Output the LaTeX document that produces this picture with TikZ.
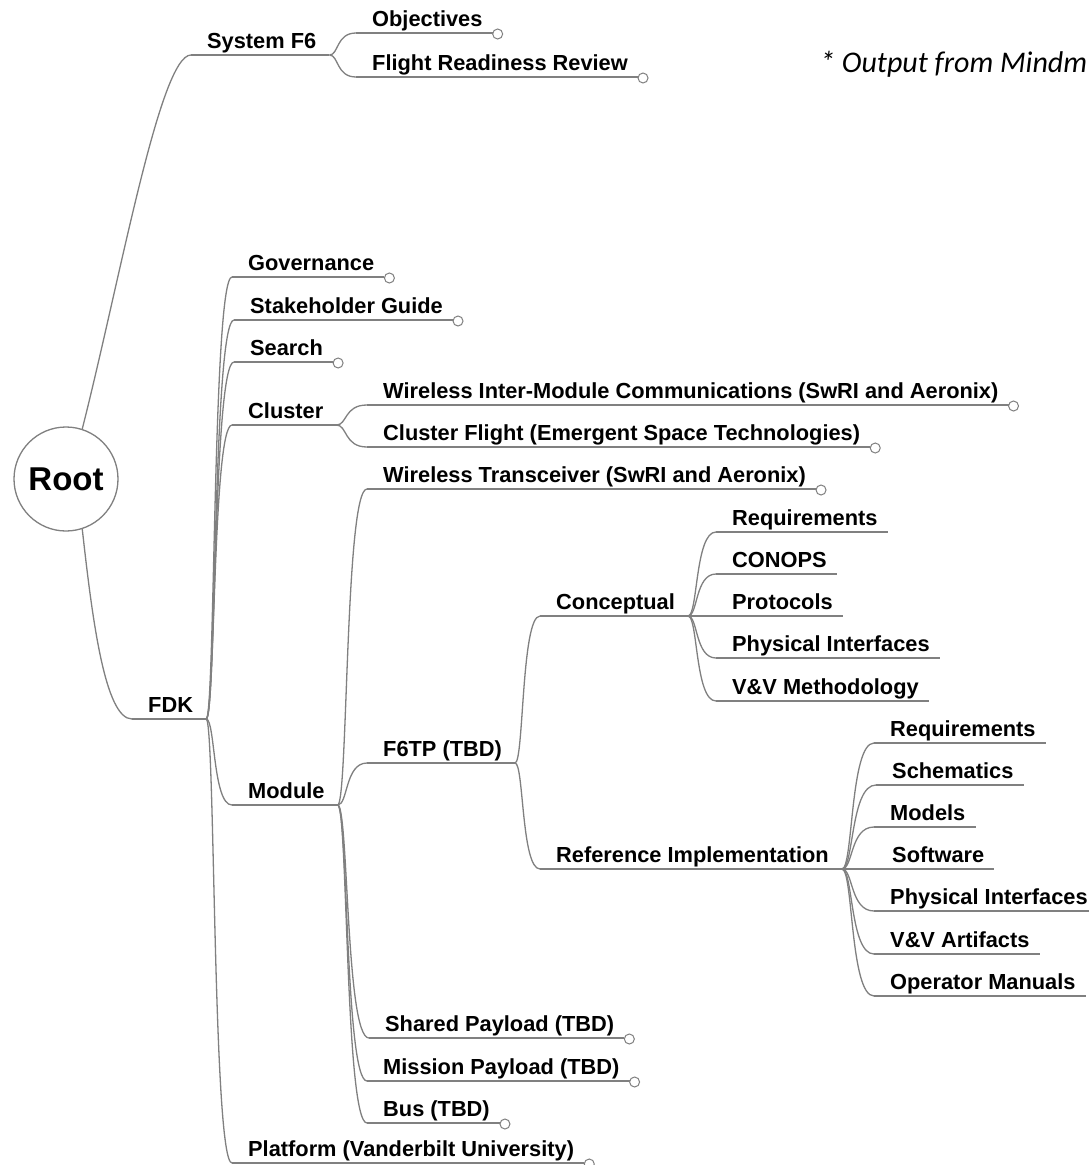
\documentclass[tikz,border=0pt]{standalone}
\usepackage{fontspec}
\setmainfont{Liberation Sans}
\newfontfamily\notefont{Carlito}
\usetikzlibrary{calc}
\definecolor{linegray}{RGB}{128,128,128}
\tikzset{
  conn/.style={draw=linegray, line width=1.3pt},
  lbl/.style={anchor=base west, inner sep=0pt, text=black,
    font=\fontsize{21.8}{24}\selectfont\bfseries},
  rootnode/.style={circle, draw=linegray, line width=1.3pt, minimum size=104pt,
    inner sep=0pt, font=\fontsize{33}{36}\selectfont\bfseries},
  notestyle/.style={anchor=base west, inner sep=0pt, text=black,
    font=\fontsize{30}{34}\notefont\itshape}
}
% connector from parent branch point to child underline start
\newcommand{\mmlink}[2]{\draw[conn] let \p1=($(#1.base east)+(13,7)$), \p2=($(#2.base west)+(-16,7)$) in
  (\p1) .. controls ({\x1+0.35*(\x2-\x1)},\y1) and ({\x1+0.25*(\x2-\x1)},\y2) .. (\p2);}
% underline of a node
\newcommand{\mmul}[2]{\draw[conn] ($(#1.base west)+(-16,7)$) -- ($(#1.base east)+(#2,7)$);}
% small end knob of a leaf
\newcommand{\mmknob}[1]{\draw[conn, line width=1pt, fill=white] ($(#1.base east)+(15,8)$) circle[radius=5pt];}
\begin{document}
\begin{tikzpicture}[x=1pt, y=-1pt]
\fill[white] (0,0) rectangle (1088,1165);
\useasboundingbox (0,0) rectangle (1088,1165);

% nodes
\node[rootnode] (root) at (66,479) {Root};
\node[lbl] (sysf6) at (207,48) {System F6};
\node[lbl] (obj) at (372,26) {Objectives};
\node[lbl] (frr) at (372,70) {Flight Readiness Review};
\node[notestyle] (note) at (820,72) {* Output from Mindm};

\node[lbl] (fdk) at (148,712) {FDK};
\node[lbl] (gov) at (248,270) {Governance};
\node[lbl] (stake) at (250,313) {Stakeholder Guide};
\node[lbl] (search) at (250,355) {Search};
\node[lbl] (cluster) at (248,418) {Cluster};
\node[lbl] (wimc) at (383,398) {Wireless Inter-Module Communications (SwRI and Aeronix)};
\node[lbl] (cflight) at (383,440) {Cluster Flight (Emergent Space Technologies)};
\node[lbl] (module) at (248,798) {Module};
\node[lbl] (wtrans) at (383,482) {Wireless Transceiver (SwRI and Aeronix)};
\node[lbl] (f6tp) at (383,756) {F6TP (TBD)};
\node[lbl] (concept) at (556,609) {Conceptual};
\node[lbl] (creq) at (732,525) {Requirements};
\node[lbl] (conops) at (732,567) {CONOPS};
\node[lbl] (proto) at (732,609) {Protocols};
\node[lbl] (cphys) at (732,651) {Physical Interfaces};
\node[lbl] (vvm) at (732,694) {V\&V Methodology};
\node[lbl] (refimpl) at (556,862) {Reference Implementation};
\node[lbl] (rreq) at (890,736) {Requirements};
\node[lbl] (schem) at (892,778) {Schematics};
\node[lbl] (models) at (890,820) {Models};
\node[lbl] (software) at (892,862) {Software};
\node[lbl] (rphys) at (890,904) {Physical Interfaces};
\node[lbl] (vvart) at (890,947) {V\&V Artifacts};
\node[lbl] (opman) at (890,989) {Operator Manuals};
\node[lbl] (shared) at (385,1031) {Shared Payload (TBD)};
\node[lbl] (mission) at (383,1074) {Mission Payload (TBD)};
\node[lbl] (bus) at (383,1116) {Bus (TBD)};
\node[lbl] (platform) at (248,1156) {Platform (Vanderbilt University)};

% root connectors
\draw[conn] (root.72) .. controls ($(root.72)+(38,-150)$) and ($(sysf6.base west)+(-47,7)$) .. ($(sysf6.base west)+(-16,7)$);
\draw[conn] (root.-72) .. controls ($(root.-72)+(10,90)$) and ($(fdk.base west)+(-43,7)$) .. ($(fdk.base west)+(-16,7)$);

% underlines
\foreach \n in {sysf6,fdk,cluster,module,f6tp,concept,refimpl}{\mmul{\n}{13}}
\foreach \n in {obj,frr,gov,stake,search,wimc,cflight,wtrans,creq,conops,proto,cphys,vvm,
  rreq,schem,models,software,rphys,vvart,opman,shared,mission,bus,platform}{\mmul{\n}{10}}

% connectors
\mmlink{sysf6}{obj}
\mmlink{sysf6}{frr}
\foreach \c in {gov,stake,search,cluster,module,platform}{\mmlink{fdk}{\c}}
\mmlink{cluster}{wimc}
\mmlink{cluster}{cflight}
\foreach \c in {wtrans,f6tp,shared,mission,bus}{\mmlink{module}{\c}}
\mmlink{f6tp}{concept}
\mmlink{f6tp}{refimpl}
\foreach \c in {creq,conops,proto,cphys,vvm}{\mmlink{concept}{\c}}
\foreach \c in {rreq,schem,models,software,rphys,vvart,opman}{\mmlink{refimpl}{\c}}

% leaf knobs
\foreach \n in {obj,frr,gov,stake,search,wimc,cflight,wtrans,shared,mission,bus,platform}{\mmknob{\n}}
\end{tikzpicture}
\end{document}
